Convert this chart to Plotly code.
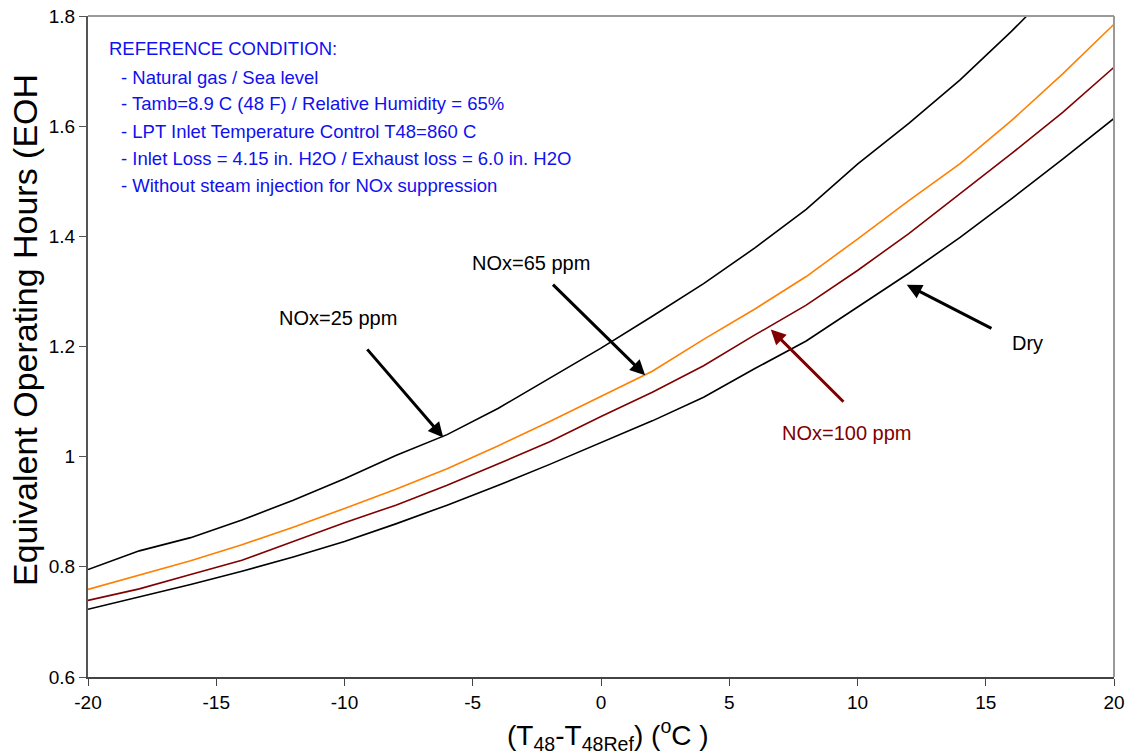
import plotly.graph_objects as go

# ---- data ----
dT = [-20, -18, -16, -14, -12, -10, -8, -6, -4, -2, 0, 2, 4, 6, 8, 10, 12, 14, 16, 18, 20]

eoh_nox25 = [0.795, 0.829, 0.853, 0.885, 0.921, 0.960, 1.002, 1.040, 1.088, 1.142, 1.197,
             1.255, 1.314, 1.379, 1.449, 1.531, 1.605, 1.684, 1.772, 1.866, 1.960]
eoh_nox65 = [0.759, 0.785, 0.811, 0.840, 0.872, 0.906, 0.941, 0.978, 1.020, 1.064, 1.110,
             1.155, 1.213, 1.268, 1.327, 1.395, 1.465, 1.532, 1.610, 1.695, 1.785]
eoh_nox100 = [0.739, 0.760, 0.786, 0.812, 0.846, 0.880, 0.912, 0.948, 0.987, 1.027, 1.073,
              1.117, 1.165, 1.221, 1.275, 1.338, 1.405, 1.477, 1.550, 1.625, 1.707]
eoh_dry = [0.723, 0.745, 0.768, 0.792, 0.818, 0.846, 0.878, 0.912, 0.948, 0.986, 1.025,
           1.065, 1.108, 1.160, 1.210, 1.272, 1.333, 1.398, 1.468, 1.540, 1.614]

x_ticks = [-20, -15, -10, -5, 0, 5, 10, 15, 20]
y_ticks = [0.6, 0.8, 1.0, 1.2, 1.4, 1.6, 1.8]
y_tick_text = ["0.6", "0.8", "1", "1.2", "1.4", "1.6", "1.8"]

ref_lines = [
    "REFERENCE CONDITION:",
    "- Natural gas / Sea level",
    "- Tamb=8.9 C (48 F) / Relative Humidity = 65%",
    "- LPT Inlet Temperature Control T48=860 C",
    "- Inlet Loss = 4.15 in. H2O / Exhaust loss = 6.0 in. H2O",
    "- Without steam injection for NOx suppression",
]

# labels: (text, x, y, colour)
labels = [
    ("NOx=25 ppm", -12.63, 1.252, "black"),
    ("NOx=65 ppm", -5.11, 1.352, "black"),
    ("Dry", 15.95, 1.206, "black"),
    ("NOx=100 ppm", 6.98, 1.043, "#800000"),
]
# arrows: (tip x, tip y, tail x, tail y, colour)
arrows = [
    (-6.15, 1.035, -9.19, 1.199, "black"),
    (1.72, 1.148, -1.95, 1.316, "black"),
    (11.92, 1.312, 15.30, 1.231, "black"),
    (6.62, 1.231, 9.53, 1.096, "#800000"),
]

FONT = "Liberation Sans, Arial, sans-serif"
W, H = 1127, 754
PX0, PX1, PY0, PY1 = 88, 1114, 16, 677
PW, PH = PX1 - PX0, PY1 - PY0
L, T = PX0, PY0
R, B = W - L - PW, H - T - PH


def px_x(p):
    return (p - PX0) / PW


def px_y(p):
    return (PY1 - p) / PH


fig = go.Figure()
series = [
    (eoh_nox25, "NOx=25 ppm", "black"),
    (eoh_nox65, "NOx=65 ppm", "#FF7F00"),
    (eoh_nox100, "NOx=100 ppm", "#800000"),
    (eoh_dry, "Dry", "black"),
]
for vals, name, col in series:
    fig.add_trace(go.Scatter(x=dT, y=vals, mode="lines", name=name,
                             line=dict(color=col, width=1.6)))

ann = []
line_y = [48, 77, 104, 131, 158, 186]
for i, t in enumerate(ref_lines):
    xpix = 107 if i == 0 else 119
    ann.append(dict(text=t, xref="paper", yref="paper", x=px_x(xpix), y=px_y(line_y[i]),
                    xanchor="left", yanchor="middle", showarrow=False,
                    font=dict(family=FONT, size=18.5, color="#1010F0")))
for t, x, y, c in labels:
    ann.append(dict(text=t, xref="x", yref="y", x=x, y=y, xanchor="left", yanchor="middle",
                    showarrow=False, font=dict(family=FONT, size=20, color=c)))
for x, y, ax, ay, c in arrows:
    ann.append(dict(text=" ", xref="x", yref="y", x=x, y=y, axref="x", ayref="y", ax=ax, ay=ay,
                    showarrow=True, arrowhead=2, arrowsize=1, arrowwidth=3, arrowcolor=c,
                    standoff=0, startstandoff=0, font=dict(size=4)))
# axis titles
ann.append(dict(text="Equivalent Operating Hours (EOH", xref="paper", yref="paper",
                x=px_x(25), y=px_y(330), xanchor="center", yanchor="middle", textangle=-90,
                showarrow=False, font=dict(family=FONT, size=34, color="black")))
ann.append(dict(text="(T<sub>48</sub>-T<sub>48Ref</sub>) (<sup>o</sup>C )", xref="paper", yref="paper",
                x=px_x(608), y=px_y(735), xanchor="center", yanchor="middle",
                showarrow=False, font=dict(family=FONT, size=28, color="black")))

fig.update_layout(
    width=W, height=H,
    margin=dict(l=L, r=R, t=T, b=B, pad=0, autoexpand=False),
    paper_bgcolor="white", plot_bgcolor="white",
    showlegend=False,
    annotations=ann,
    font=dict(family=FONT, size=19, color="black"),
    shapes=[
        dict(type="line", xref="x domain", yref="y domain", x0=0, x1=1, y0=1, y1=1,
             line=dict(color="#9a9a9a", width=2)),
        dict(type="line", xref="x domain", yref="y domain", x0=1, x1=1, y0=0, y1=1,
             line=dict(color="#9a9a9a", width=2)),
    ],
)
fig.update_xaxes(range=[-20, 20], tickvals=x_ticks, ticktext=[str(v) for v in x_ticks],
                 automargin=False,
                 showgrid=False, zeroline=False, showline=True, linecolor="#444444", linewidth=1.5,
                 ticks="outside", ticklen=7, tickcolor="#444444", tickwidth=1.2,
                 tickfont=dict(family=FONT, size=19, color="black"))
fig.update_yaxes(range=[0.6, 1.8], tickvals=y_ticks, ticktext=y_tick_text,
                 automargin=False,
                 showgrid=False, zeroline=False, showline=True, linecolor="#555555", linewidth=2,
                 ticks="outside", ticklen=7, tickcolor="#555555", tickwidth=1.2,
                 tickfont=dict(family=FONT, size=19, color="black"))

fig.write_html("out.html",
               config={"displayModeBar": False},
               post_script="document.body.style.margin='0';document.body.style.overflow='hidden';")
